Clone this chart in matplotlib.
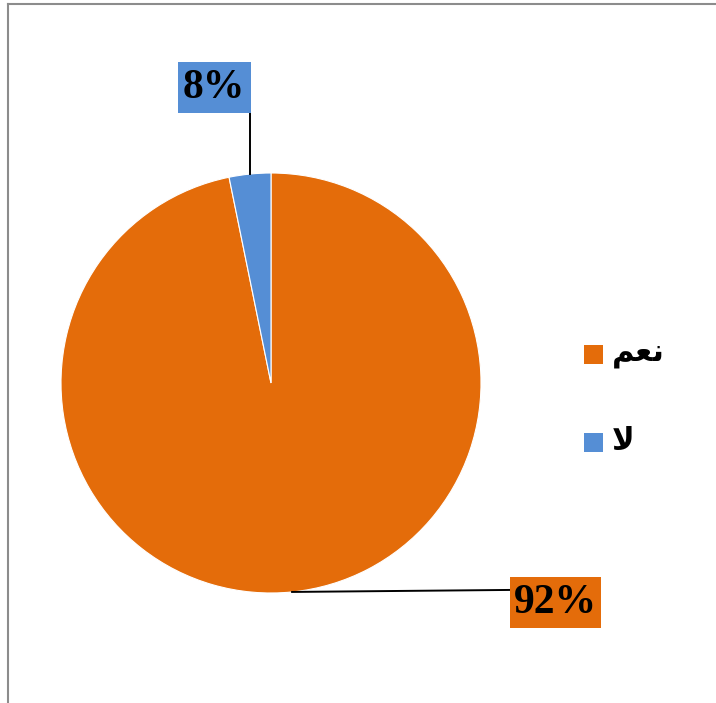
import numpy as np
import matplotlib
matplotlib.use('Agg')
import matplotlib.pyplot as plt
from matplotlib.patches import Rectangle

# البيانات
categories = ['نعم', 'لا']
# أشكال العرض (presentation forms) لأن matplotlib لا يقوم بتشكيل الحروف العربية
legend_labels = ['\uFEE2\uFECC\uFEE7', '\uFEFB']
values = [96.8, 3.2]          # حجم الشرائح كما هي مرسومة
pct_labels = ['92%', '8%']    # النسب المكتوبة على الرسم
colors = ['#E46C0A', '#558ED5']

W, H = 716, 703
fig = plt.figure(figsize=(W / 100, H / 100), dpi=100)
ax = fig.add_axes([0, 0, 1, 1])

cx, cy, r = 271, H - 383, 210
wedges, _ = ax.pie(values, colors=colors, startangle=90, counterclock=False,
                   center=(cx, cy), radius=r, frame=True,
                   wedgeprops=dict(linewidth=0.8, edgecolor='white'))
ax.set_xlim(0, W)
ax.set_ylim(0, H)
ax.set_aspect('equal')
ax.axis('off')

# مواضع صناديق النسب
box_pos = [(555, H - 602), (214, H - 87)]
box_size = [(91, 51), (73, 51)]
for w, lab, col, (bx, by), (bw, bh) in zip(wedges, pct_labels, colors, box_pos, box_size):
    mid = np.deg2rad((w.theta1 + w.theta2) / 2)
    px, py = cx + r * np.cos(mid), cy + r * np.sin(mid)
    if by > py:
        # خط عمودي إلى أعلى
        ax.plot([px, px], [py, by - bh / 2], color='black', lw=1.4)
    else:
        # خط أفقي إلى اليمين
        ax.plot([px, bx - bw / 2], [py, py + 2], color='black', lw=1.4)
    ax.add_patch(Rectangle((bx - bw / 2, by - bh / 2), bw, bh, facecolor=col,
                           edgecolor='none', zorder=3))
    ax.text(bx, by - 1, lab, ha='center', va='center', fontsize=30,
            fontweight='bold', family='Liberation Serif', zorder=4)

# وسيلة الإيضاح
for i, (lab, col) in enumerate(zip(legend_labels, colors)):
    ly = H - 354 - i * 88
    ax.add_patch(Rectangle((584, ly - 9.5), 19, 19, facecolor=col, edgecolor='none'))
    ax.text(612, ly, lab, ha='left', va='center', fontsize=22, fontweight='bold',
            family=['DejaVu Sans'])

# الإطار
ax.plot([8, W], [H - 4, H - 4], color='#8c8c8c', lw=1.5, clip_on=False)
ax.plot([8, 8], [0, H - 4], color='#8c8c8c', lw=1.5, clip_on=False)

fig.savefig('out.png', dpi=100)
